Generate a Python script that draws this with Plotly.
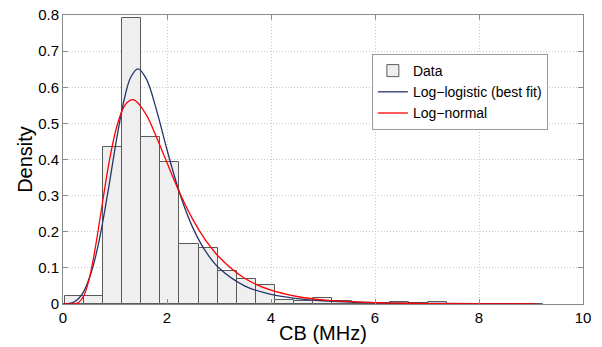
import numpy as np
import plotly.graph_objects as go

# Histogram (density) of CB values
bin_start = 0.03
bin_width = 0.368
density = [0.023, 0.023, 0.434, 0.793, 0.463, 0.394, 0.166, 0.155, 0.091,
           0.068, 0.052, 0.010, 0.0075, 0.018, 0.009, 0.004, 0.002, 0.0046,
           0.002, 0.0046, 0.001, 0.001, 0.001, 0.001, 0.001]

# Log-logistic (best fit) curve
ll_x = [0, 0.2, 0.3, 0.4, 0.5, 0.6, 0.7, 0.8, 0.9, 1.0, 1.1, 1.2, 1.3, 1.44,
        1.6, 1.8, 2.0, 2.25, 2.5, 2.75, 3.0, 3.5, 4.0, 4.5, 5.0, 6.0, 7.0,
        8.0, 9.1]
ll_y = [0, 0.0045, 0.015, 0.035, 0.069, 0.116, 0.179, 0.256, 0.341, 0.430,
        0.512, 0.580, 0.627, 0.651, 0.624, 0.536, 0.427, 0.304, 0.210,
        0.144, 0.0996, 0.0497, 0.0265, 0.0150, 0.0090, 0.0036, 0.0017,
        0.0009, 0.0005]

# Log-normal curve
ln_x = [0, 0.1, 0.2, 0.3, 0.4, 0.5, 0.6, 0.7, 0.8, 0.9, 1.0, 1.1, 1.2, 1.33,
        1.4, 1.6, 1.8, 2.0, 2.25, 2.5, 2.75, 3.0, 3.5, 4.0, 4.5, 5.0, 6.0,
        7.0, 8.0, 9.1]
ln_y = [0, 0.0, 0.0002, 0.0041, 0.0228, 0.067, 0.138, 0.226, 0.318, 0.403,
        0.472, 0.522, 0.552, 0.5655, 0.562, 0.524, 0.461, 0.391, 0.306,
        0.233, 0.175, 0.130, 0.0705, 0.0381, 0.0208, 0.0114, 0.0036,
        0.0012, 0.0004, 0.0001]

x_ticks = [0, 2, 4, 6, 8, 10]
y_ticks = [0, 0.1, 0.2, 0.3, 0.4, 0.5, 0.6, 0.7, 0.8]

centers = bin_start + bin_width * (np.arange(len(density)) + 0.5)

FONT = "Liberation Sans, Arial, Helvetica, sans-serif"
AXIS_COLOR = "#8a8a8a"

fig = go.Figure()
fig.add_trace(go.Bar(
    x=centers, y=density, width=bin_width, name="Data",
    marker=dict(color="#efefef", line=dict(color="#5a5a5a", width=1)),
))
fig.add_trace(go.Scatter(
    x=ll_x, y=ll_y, mode="lines", name="Log\u2212logistic (best fit)",
    line=dict(color="#26366b", width=1.3, shape="spline"),
))
fig.add_trace(go.Scatter(
    x=ln_x, y=ln_y, mode="lines", name="Log\u2212normal",
    line=dict(color="#ff0000", width=1.3, shape="spline"),
))

axis_common = dict(
    showline=True, linecolor=AXIS_COLOR, linewidth=1, mirror="ticks",
    ticks="inside", ticklen=5, tickcolor=AXIS_COLOR,
    showgrid=True, gridcolor="#c8c8c8", griddash="1px,2px", gridwidth=1,
    zeroline=False, automargin=False, ticklabeloverflow="allow",
    tickfont=dict(family=FONT, size=15, color="black"),
)

fig.update_layout(
    width=602, height=347,
    margin=dict(l=63, r=19, t=15, b=43),
    paper_bgcolor="white", plot_bgcolor="white",
    font=dict(family=FONT, color="black"),
    bargap=0,
    xaxis=dict(range=[0, 10], tickvals=x_ticks,
               ticktext=[str(v) for v in x_ticks],
               title=dict(text="CB (MHz)", font=dict(family=FONT, size=20),
                          standoff=0),
               **axis_common),
    yaxis=dict(range=[0, 0.8], tickvals=y_ticks,
               ticktext=["0" if v == 0 else f"{v:.1f}" for v in y_ticks],
               title=dict(text="Density", font=dict(family=FONT, size=20),
                          standoff=0),
               **axis_common),
    legend=dict(x=0.594, y=0.865, xanchor="left", yanchor="top",
                bgcolor="white", bordercolor="#9a9a9a", borderwidth=1,
                font=dict(family=FONT, size=14), itemwidth=30,
                tracegroupgap=0),
    showlegend=True,
)

# Remove the browser's default 8px page margin so the figure sits at (0, 0).
fig.write_html("out.html",
               config={"displayModeBar": False},
               post_script="document.body.style.margin='0';")
